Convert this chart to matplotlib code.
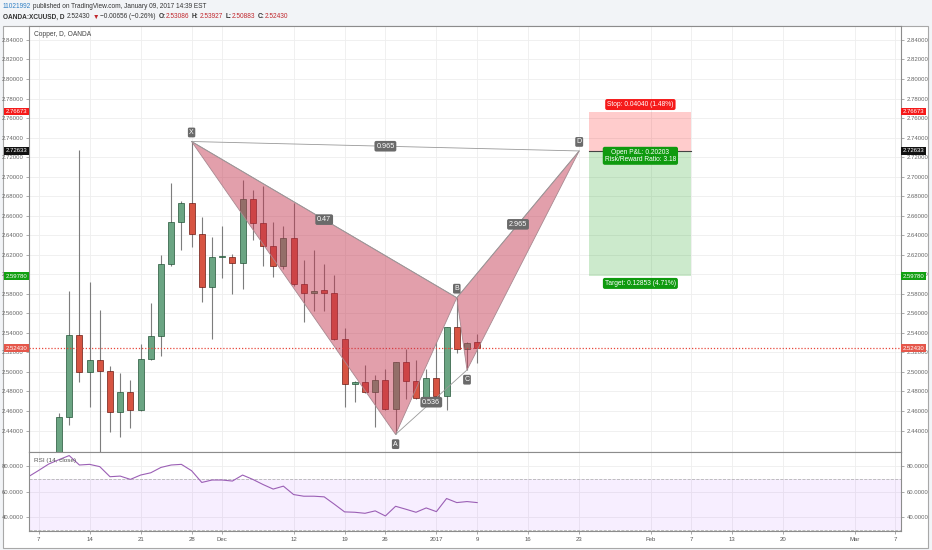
import matplotlib
matplotlib.use('Agg')
import matplotlib.pyplot as plt
from matplotlib.patches import Rectangle, Polygon
from matplotlib.transforms import blended_transform_factory
import numpy as np

plt.rcParams['font.family'] = ['Liberation Sans', 'DejaVu Sans']

W, H = 932, 550

# daily bars, x = bar number counted from 7 Nov 2016
bar_idx = list(range(2, 44))
opens = [2.390, 2.454, 2.538, 2.500, 2.5125, 2.501, 2.459, 2.479, 2.461, 2.513,
         2.537, 2.611, 2.654, 2.673, 2.641, 2.587, 2.618, 2.618, 2.612, 2.677,
         2.653, 2.629, 2.609, 2.637, 2.590, 2.581, 2.584, 2.581, 2.534, 2.488,
         2.490, 2.479, 2.492, 2.462, 2.510, 2.491, 2.473, 2.494, 2.475, 2.546,
         2.523, 2.53086]
highs = [2.458, 2.583, 2.727, 2.592, 2.563, 2.506, 2.499, 2.492, 2.529, 2.571,
         2.620, 2.694, 2.675, 2.736, 2.659, 2.638, 2.649, 2.621, 2.697, 2.686,
         2.690, 2.654, 2.649, 2.673, 2.615, 2.625, 2.611, 2.599, 2.545, 2.491,
         2.507, 2.497, 2.503, 2.510, 2.523, 2.512, 2.503, 2.531, 2.546, 2.576,
         2.531, 2.53927]
lows = [2.380, 2.446, 2.490, 2.464, 2.410, 2.438, 2.433, 2.443, 2.460, 2.512,
        2.516, 2.609, 2.625, 2.628, 2.572, 2.534, 2.596, 2.580, 2.585, 2.635,
        2.609, 2.597, 2.605, 2.588, 2.551, 2.562, 2.562, 2.533, 2.464, 2.469,
        2.478, 2.444, 2.461, 2.436, 2.472, 2.472, 2.470, 2.473, 2.461, 2.519,
        2.502, 2.50883]
closes = [2.454, 2.538, 2.500, 2.5125, 2.501, 2.459, 2.479, 2.461, 2.513, 2.537,
          2.611, 2.654, 2.673, 2.641, 2.587, 2.618, 2.6185, 2.612, 2.677, 2.653,
          2.629, 2.609, 2.637, 2.590, 2.581, 2.583, 2.581, 2.534, 2.488, 2.490,
          2.479, 2.492, 2.462, 2.510, 2.491, 2.473, 2.494, 2.475, 2.546, 2.523,
          2.530, 2.52430]

rsi_idx = list(range(-1, 44))
rsi = [71.6, 76.5, 81.6, 85.0, 88.2, 80.8, 81.3, 79.5, 71.6, 72.1,
       69.5, 72.9, 74.7, 78.9, 80.8, 81.3, 76.3, 67.1, 69.0, 69.0,
       68.2, 72.9, 69.5, 65.5, 61.9, 64.2, 57.6, 56.3, 56.3, 55.8,
       50.0, 44.0, 43.7, 42.9, 44.8, 40.8, 48.4, 46.1, 43.7, 47.1,
       44.2, 54.5, 51.3, 52.1, 51.3]

tick_idx = [0, 5, 10, 15, 18, 25, 30, 34, 39, 43, 48, 53, 60, 64, 68, 73, 80, 84]
tick_lab = ['7', '14', '21', '28', 'Dec', '12', '19', '26', '2017', '9', '16', '23',
            'Feb', '7', '13', '20', 'Mar', '7']
price_ticks = np.arange(2.44, 2.8401, 0.02)
rsi_ticks = [40, 60, 80]

# XABCD pattern
pat_names = ['X', 'A', 'B', 'C', 'D']
pat_idx = [15, 35, 41, 42, 53]
pat_px = [2.736, 2.436, 2.576, 2.502, 2.72633]
ratio_pairs = [('X', 'B', '0.47'), ('X', 'D', '0.965'), ('A', 'C', '0.536'), ('B', 'D', '2.965')]

# short position
entry, stop, target = 2.72633, 2.76673, 2.59780
pos_start, pos_end = 54, 64
last = 2.52430

fig = plt.figure(figsize=(W / 100, H / 100), dpi=100, facecolor='#f2f4f7')
fig.add_artist(Rectangle((3 / W, 1 - 548 / H), 925 / W, 522 / H, transform=fig.transFigure,
                         fc='white', ec='#a8a8a8', lw=0.8, zorder=0))

ax = fig.add_axes([29 / W, 1 - 452 / H, 872 / W, 426 / H])
ax2 = fig.add_axes([29 / W, 1 - 531 / H, 872 / W, 79 / H], sharex=ax)

for a in (ax, ax2):
    a.set_facecolor('white')
    for s in a.spines.values():
        s.set_color('#8c8c8c')
        s.set_linewidth(0.8)
    a.set_xticks(tick_idx)
    a.grid(color='#eeeeee', lw=0.6)
    a.set_axisbelow(True)
    a.tick_params(axis='y', left=True, right=True, labelleft=True, labelright=True,
                  length=2.5, width=0.5, color='#888888', labelsize=4.3, labelcolor='#666666', pad=1.5)

ax.set_xlim(-0.94, 84.55)
ax.set_ylim(2.418, 2.8543)
ax.set_yticks(price_ticks)
ax.set_yticklabels([f'{v:.5f}' for v in price_ticks])
ax.tick_params(axis='x', bottom=False, labelbottom=False)

ax2.set_ylim(29, 91)
ax2.set_yticks(rsi_ticks)
ax2.set_yticklabels([f'{v:.4f}' for v in rsi_ticks])
ax2.set_xticklabels(tick_lab)
ax2.tick_params(axis='x', length=2.5, width=0.5, color='#888888', labelsize=4.3, labelcolor='#555555', pad=2)

# candles
for i, o, h, l, c in zip(bar_idx, opens, highs, lows, closes):
    up = c >= o
    ax.vlines(i, l, h, color='#7d7d7d', lw=0.8, zorder=2)
    fc, ec = ('#6ba583', '#225437') if up else ('#d75442', '#6b1a13')
    ax.add_patch(Rectangle((i - 0.3, min(o, c)), 0.6, max(abs(c - o), 0.0008),
                           fc=fc, ec=ec, lw=0.5, zorder=3))

ax.axhline(last, color='#e8473a', ls=(0, (1, 1.5)), lw=0.9, zorder=4)

# pattern
P = {n: (x, y) for n, x, y in zip(pat_names, pat_idx, pat_px)}
for tri in (('X', 'A', 'B'), ('B', 'C', 'D')):
    ax.add_patch(Polygon([P[n] for n in tri], closed=True, fc=(0.76, 0.2, 0.3, 0.47),
                         ec='#a88890', lw=0.6, zorder=5))
for n1, n2, lab in ratio_pairs:
    (x1, y1), (x2, y2) = P[n1], P[n2]
    ax.plot([x1, x2], [y1, y2], color='#999999', lw=0.6, zorder=5)
    ax.text((x1 + x2) / 2, (y1 + y2) / 2, lab, ha='center', va='center', fontsize=5.2, color='white',
            zorder=7, bbox=dict(boxstyle='round,pad=0.25', fc='#6a6a6a', ec='none'))
offs = {'X': 6.5, 'A': -7, 'B': 6.5, 'C': -7, 'D': 6.5}
for n in pat_names:
    ax.annotate(n, P[n], xytext=(0, offs[n]), textcoords='offset points', ha='center', va='center',
                fontsize=5, color='white', zorder=7,
                bbox=dict(boxstyle='round,pad=0.2', fc='#6a6a6a', ec='none'))

# position tool
ax.add_patch(Rectangle((pos_start, entry), pos_end - pos_start, stop - entry,
                       fc=(1, 0, 0, 0.2), ec='none', zorder=4))
ax.add_patch(Rectangle((pos_start, target), pos_end - pos_start, entry - target,
                       fc=(0, 0.6, 0, 0.2), ec='none', zorder=4))
ax.plot([pos_start, pos_end], [entry, entry], color='#444444', lw=0.8, zorder=5)
mid = (pos_start + pos_end) / 2
ax.annotate('Stop: 0.04040 (1.48%)', (mid, stop), xytext=(0, 2.5), textcoords='offset points',
            ha='center', va='bottom', fontsize=4.8, color='white', zorder=7,
            bbox=dict(boxstyle='round,pad=0.3', fc='#f51a1a', ec='none'))
ax.annotate('Open P&L: 0.20203\nRisk/Reward Ratio: 3.18', (mid, entry), xytext=(0, -3.5),
            textcoords='offset points', ha='center', va='center', fontsize=4.8, color='white',
            linespacing=1.0, zorder=7, bbox=dict(boxstyle='round,pad=0.3', fc='#0f9a0f', ec='none'))
ax.annotate('Target: 0.12853 (4.71%)', (mid, target), xytext=(0, -2.5), textcoords='offset points',
            ha='center', va='top', fontsize=4.8, color='white', zorder=7,
            bbox=dict(boxstyle='round,pad=0.3', fc='#0f9a0f', ec='none'))

# price tags on both scales
tags = [(stop, '#f51a1a'), (entry, '#111111'), (target, '#12a012'), (last, '#e5574b')]
tr = blended_transform_factory(ax.transAxes, ax.transData)
for v, col in tags:
    for xa, ha in ((-0.002, 'right'), (1.002, 'left')):
        ax.text(xa, v, f'{v:.5f}', transform=tr, ha=ha, va='center', fontsize=4.3, color='white',
                zorder=10, clip_on=False, bbox=dict(boxstyle='square,pad=0.25', fc=col, ec='none'))

ax.text(0.006, 0.979, 'Copper, D, OANDA', transform=ax.transAxes, ha='left', va='center',
        fontsize=4.8, color='#444444')

# RSI
ax2.axhspan(30, 70, color='#9915ff', alpha=0.07, lw=0)
ax2.axhline(70, color='#b5b5b5', ls='--', lw=0.6)
ax2.axhline(30, color='#b5b5b5', ls='--', lw=0.6)
ax2.plot(rsi_idx, rsi, color='#9b5fb5', lw=0.8)
ax2.text(0.006, 84, 'RSI (14, close)', transform=blended_transform_factory(ax2.transAxes, ax2.transData),
         ha='left', va='center', fontsize=4.6, color='#555555')

# header
renderer = fig.canvas.get_renderer()


def header(parts, x0, y, size):
    x = x0
    for s, col, wt, gap in parts:
        t = fig.text(x / W, 1 - y / H, s, color=col, fontsize=size, fontweight=wt, va='center', ha='left')
        x += t.get_window_extent(renderer).width + gap


dark = '#333333'
red = '#c0272d'
header([('11021992', '#2f7fc4', 'normal', 2),
        ('published on TradingView.com, January 09, 2017 14:39 EST', dark, 'normal', 0)], 3, 6.5, 4.7)
header([('OANDA:XCUUSD, D', dark, 'bold', 2.5), ('2.52430', dark, 'normal', 2),
        ('▼', red, 'normal', 1.5), ('−0.00656 (−0.26%)', dark, 'normal', 2.5),
        ('O:', dark, 'bold', 0.5), ('2.53086', red, 'normal', 2.5),
        ('H:', dark, 'bold', 0.5), ('2.53927', red, 'normal', 2.5),
        ('L:', dark, 'bold', 0.5), ('2.50883', red, 'normal', 2.5),
        ('C:', dark, 'bold', 0.5), ('2.52430', red, 'normal', 0)], 3, 17, 4.7)

fig.savefig('out.png', dpi=100, facecolor=fig.get_facecolor())
